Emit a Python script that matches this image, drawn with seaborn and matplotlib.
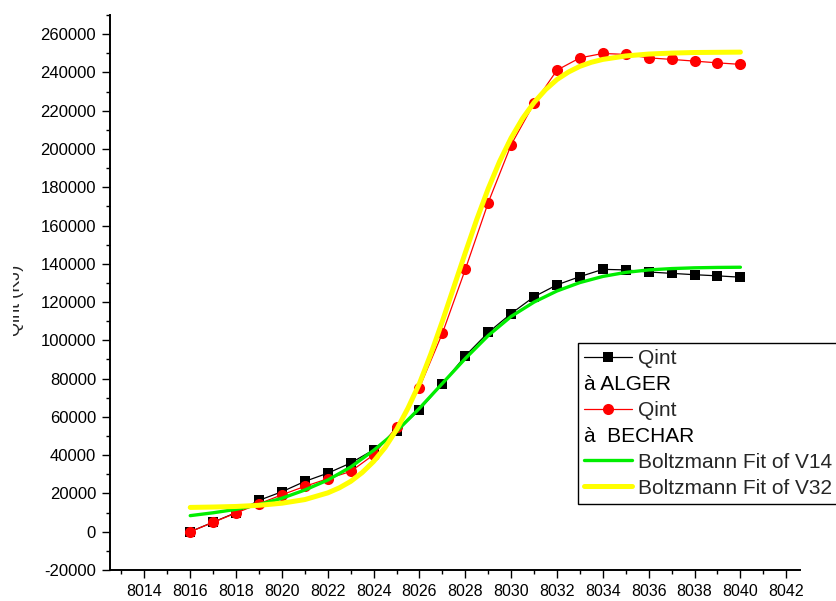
import matplotlib
matplotlib.use("Agg")
import matplotlib.pyplot as plt
import seaborn as sns
from matplotlib.legend_handler import HandlerBase
from matplotlib.text import Text
from matplotlib.ticker import MultipleLocator
from matplotlib.transforms import Bbox, TransformedBbox

# data
x_points = list(range(8016, 8041))
qint_alger = [0, 5000, 10000, 16400, 20900, 26300, 30600, 35900, 42800, 52400,
              63700, 77300, 91900, 104100, 114000, 122800, 129000, 133300, 137100,
              136800, 135700, 135000, 134300, 133700, 133000]
qint_bechar = [0, 4900, 9800, 14600, 19300, 23700, 27700, 31500, 40200, 54700,
               75300, 103700, 137100, 172000, 202200, 223800, 241200, 247600, 249900,
               249400, 247600, 246800, 245900, 245000, 244200]

# Boltzmann fit curves
fit_v14_x = list(range(8016, 8041))
fit_v14 = [8400, 9900, 11700, 14200, 17500, 21800, 27000, 33800, 42500, 52500,
           64500, 77500, 90500, 102500, 112500, 120000, 125800, 130200, 133400,
           135500, 136800, 137500, 137900, 138100, 138200]
fit_v32_x = [8016, 8017, 8018, 8019, 8020, 8021, 8022, 8022.5, 8023, 8023.5, 8024,
             8024.5, 8025, 8025.5, 8026, 8026.5, 8027, 8027.5, 8028, 8028.5, 8029,
             8029.5, 8030, 8030.5, 8031, 8031.5, 8032, 8032.5, 8033, 8033.5, 8034,
             8035, 8036, 8037, 8038, 8039, 8040]
fit_v32 = [12700, 12900, 13200, 13800, 14900, 16800, 20300, 22900, 26300, 30900, 36700,
           44000, 53300, 64600, 77500, 93000, 110000, 127900, 145800, 163200, 179300,
           193600, 205800, 216000, 224300, 231000, 236300, 240200, 243200, 245300, 246800,
           248600, 249600, 250100, 250400, 250500, 250600]


# legend rows that carry only a second line of text
class ExtraLine:
    def __init__(self, text):
        self.text = text


class ExtraLineHandler(HandlerBase):
    def create_artists(self, legend, orig_handle, xdescent, ydescent, width, height,
                       fontsize, trans):
        t = Text(-xdescent, -ydescent, orig_handle.text, fontsize=fontsize,
                 va='baseline', ha='left', transform=trans, color='black')
        return [t]


sns.set_style("ticks")
plt.rcParams['font.family'] = ['Liberation Sans', 'DejaVu Sans']
plt.rcParams['axes.unicode_minus'] = False

fig = plt.figure(figsize=(8.37, 6.01), dpi=100)
ax = fig.add_axes([110 / 837, 31 / 601, 690 / 837, 555 / 601])

sns.lineplot(x=x_points, y=qint_alger, ax=ax, color='black', lw=0.9, marker='s',
             markersize=7, markeredgewidth=0, legend=False)
sns.lineplot(x=x_points, y=qint_bechar, ax=ax, color='#ff0000', lw=0.9, marker='o',
             markersize=8, markeredgewidth=0, legend=False)
sns.lineplot(x=fit_v14_x, y=fit_v14, ax=ax, color='#00ee00', lw=2.4, legend=False)
sns.lineplot(x=fit_v32_x, y=fit_v32, ax=ax, color='#ffff00', lw=3.6, legend=False)

ax.set_xlim(8012.5, 8042.6)
ax.set_ylim(-20000, 270000)
ax.xaxis.set_major_locator(MultipleLocator(2))
ax.xaxis.set_minor_locator(MultipleLocator(1))
ax.yaxis.set_major_locator(MultipleLocator(20000))
ax.yaxis.set_minor_locator(MultipleLocator(10000))
ax.ticklabel_format(style='plain', useOffset=False)
ax.tick_params(which='major', direction='out', length=6, width=1, colors='black',
               labelsize=11.5, pad=4)
ax.tick_params(axis='y', which='major', labelsize=12)
ax.tick_params(which='minor', direction='out', length=3, width=1, colors='black')
sns.despine(ax=ax)
for side in ['left', 'bottom']:
    ax.spines[side].set_linewidth(1.4)
    ax.spines[side].set_color('black')
ax.set_xlabel('')

ax.set_ylabel('Qint (KJ)', fontsize=13)
ax.yaxis.set_label_coords(-0.124, 0.485)
lbl = ax.yaxis.label
lbl.set_clip_box(TransformedBbox(Bbox([[13 / 837, 0], [1, 1]]), fig.transFigure))
lbl.set_clip_on(True)

lines = ax.get_lines()
handles = [lines[0], ExtraLine('à ALGER'), lines[1], ExtraLine('à  BECHAR'),
           lines[2], lines[3]]
labels = ['Qint', '', 'Qint', '', 'Boltzmann Fit of V14', 'Boltzmann Fit of V32']
leg = ax.legend(handles, labels, handler_map={ExtraLine: ExtraLineHandler()},
                loc='upper left', bbox_to_anchor=(0.678, 0.409), borderaxespad=0,
                fontsize=15, frameon=True, fancybox=False, framealpha=1,
                edgecolor='black', handlelength=2.3, handletextpad=0.3,
                labelspacing=0.33, borderpad=0.3, numpoints=1)
leg.get_frame().set_linewidth(1.0)

fig.savefig('out.png', dpi=100)
